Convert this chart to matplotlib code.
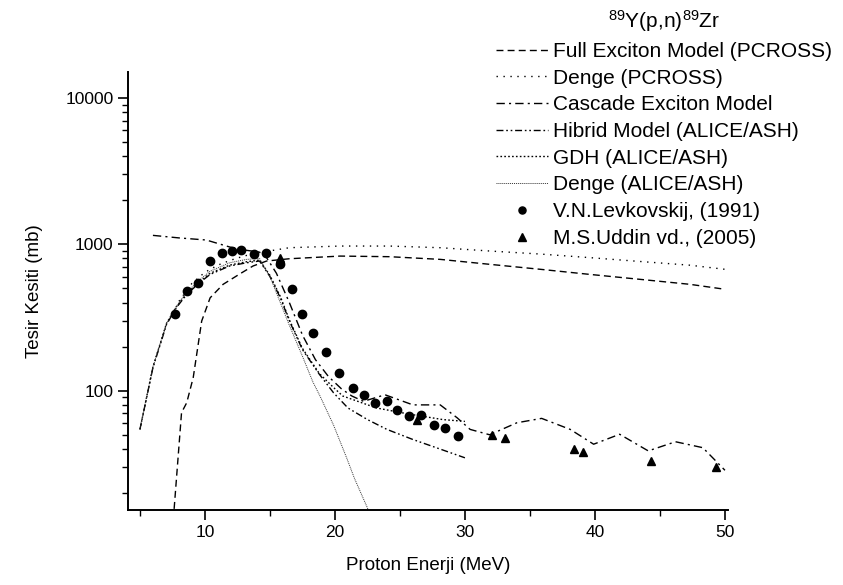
import numpy as np
import matplotlib
matplotlib.use('Agg')
import matplotlib.pyplot as plt

plt.rcParams['font.family'] = ['Liberation Sans', 'DejaVu Sans']
plt.rcParams['mathtext.fontset'] = 'custom'
plt.rcParams['mathtext.rm'] = 'Liberation Sans'
plt.rcParams['mathtext.default'] = 'regular'

# Full Exciton Model (PCROSS)
e_full = [7.5, 8.2, 8.6, 9.1, 9.75, 10.4, 11.4, 12.7, 13.7, 14.75, 16.5, 20.4,
          24.2, 28.1, 31.9, 35.8, 39.6, 43.5, 47.3, 50]
s_full = [11, 70.8, 82.8, 123, 299, 431, 533, 629, 711, 769, 797, 831,
          823, 789, 730, 675, 623, 576, 533, 493]

# Denge (PCROSS)
e_dpc = [8.0, 9.0, 10.0, 11.0, 12.0, 13.0, 14.0, 16.5, 20.4, 24.2, 28.1, 31.9,
         35.8, 39.6, 43.5, 47.3, 50]
s_dpc = [408, 541, 644, 721, 780, 831, 873, 948, 973, 973, 948, 900,
         858, 811, 763, 720, 675]

# Cascade Exciton Model
e_cem = [6.0, 8.0, 10.1, 11.9, 13.0, 14.5, 15.5, 16.5, 17.5, 18.5, 19.5, 20.5,
         21.3, 22.2, 23.85, 26.0, 28.1, 29.4, 30.4, 31.9, 34.0, 35.9, 38.1,
         39.9, 41.9, 44.1, 46.2, 48.3, 50]
s_cem = [1151, 1106, 1070, 959, 915, 877, 634, 399, 240, 163, 125, 103,
         92, 84.6, 93.8, 80, 80, 65.3, 54.4, 50, 60.4, 64.7, 54.4,
         43.1, 50.4, 38.8, 44.8, 40.8, 28.6]

# Hibrid Model (ALICE/ASH)
e_hyb = [5, 6, 7.05, 7.8, 8.6, 9.5, 10.4, 11.9, 13.2, 14.2, 15.0, 15.8, 16.5,
         17.5, 18.8, 19.9, 21.0, 22.5, 24.0, 26.0, 28.0, 30.0]
s_hyb = [54.4, 143.6, 284, 369, 455, 538, 623, 711, 748, 769, 603, 431, 299,
         191, 129.5, 96.6, 76.2, 63.5, 54.4, 46.4, 40.2, 34.8]

# GDH (ALICE/ASH)
e_gdh = [5, 6, 7.05, 7.8, 8.6, 9.5, 10.4, 11.9, 13.2, 14.2, 15.0, 15.8, 16.5,
         17.5, 18.8, 19.9, 20.6, 23.2, 25.8, 28.3, 30.0]
s_gdh = [54.4, 145.5, 289, 374, 462, 546, 634, 721, 760, 780, 613, 440, 304,
         194.5, 131, 105, 92, 76.2, 69, 63.5, 61.7]

# Denge (ALICE/ASH)
e_dal = [5, 6, 7.05, 7.8, 8.6, 9.5, 10.4, 11.9, 13.2, 14.2, 15.0, 16.5, 17.5,
         18.3, 18.85, 19.9, 20.9, 21.5, 22.6, 23.0]
s_dal = [54.4, 145.5, 289, 377, 470, 562, 655, 748, 789, 800, 603, 279, 172,
         115, 92, 58, 34.8, 25.2, 15.1, 12.6]

# V.N.Levkovskij, (1991)
e_lev = [7.7, 8.6, 9.5, 10.4, 11.3, 12.1, 12.8, 13.8, 14.7, 15.8, 16.7, 17.5,
         18.3, 19.3, 20.3, 21.4, 22.2, 23.1, 24.0, 24.8, 25.7, 26.6, 27.6,
         28.5, 29.5]
s_lev = [332, 480, 541, 765, 868, 896, 918, 862, 872, 730, 493, 334,
         247, 183, 132, 105, 93.8, 81.8, 85.1, 74.3, 67.1, 68, 58,
         56, 49]

# M.S.Uddin vd., (2005)
e_udd = [15.8, 26.3, 32.1, 33.1, 38.4, 39.05, 44.3, 49.3]
s_udd = [803, 63.5, 50, 47.8, 40.2, 38.1, 33.1, 30.1]

fig = plt.figure(figsize=(8.43, 5.85), dpi=100)
ax = fig.add_axes([0.1518, 0.1274, 0.7117, 0.750])

ax.plot(e_full, s_full, color='black', lw=1.0, ls=(0, (5, 3)),
        label='Full Exciton Model (PCROSS)')
ax.plot(e_dpc, s_dpc, color='black', lw=1.0, ls=(0, (1, 4)),
        label='Denge (PCROSS)')
ax.plot(e_cem, s_cem, color='black', lw=1.0, ls=(0, (6, 3, 1.5, 3)),
        label='Cascade Exciton Model')
ax.plot(e_hyb, s_hyb, color='black', lw=1.0, ls=(0, (5, 2, 1.2, 2, 1.2, 2)),
        label='Hibrid Model (ALICE/ASH)')
ax.plot(e_gdh, s_gdh, color='black', lw=1.0, ls=(0, (1.2, 1.6)),
        label='GDH (ALICE/ASH)')
ax.plot(e_dal, s_dal, color='#333333', lw=0.7, ls=(0, (1, 1)),
        label='Denge (ALICE/ASH)')
ax.plot(e_lev, s_lev, 'o', color='black', ms=6, ls='none',
        label='V.N.Levkovskij, (1991)')
ax.plot(e_udd, s_udd, '^', color='black', ms=6, ls='none',
        label='M.S.Uddin vd., (2005)')

ax.set_yscale('log')
ax.set_xlim(4.08, 50.23)
ax.set_ylim(15.2, 15100)
ax.set_xticks([10, 20, 30, 40, 50])
ax.set_xticks([5, 15, 25, 35, 45], minor=True)
ax.set_yticks([100, 1000, 10000])
ax.set_yticklabels(['100', '1000', '10000'])

for s in ['top', 'right']:
    ax.spines[s].set_visible(False)
for s in ['left', 'bottom']:
    ax.spines[s].set_linewidth(1.4)

ax.tick_params(which='major', direction='out', length=7, width=1.2,
               labelsize=12.5)
ax.tick_params(which='minor', direction='out', length=4, width=1.0)
ax.set_xlabel('Proton Enerji (MeV)', fontsize=13.5, labelpad=12)
ax.set_ylabel('Tesir Kesiti (mb)', fontsize=13.5, labelpad=16)

leg = fig.legend(loc='upper right', bbox_to_anchor=(0.997, 1.0),
                 frameon=False, fontsize=15, handlelength=2.5,
                 handletextpad=0.25, labelspacing=0.37, numpoints=1,
                 markerscale=0.85,
                 title='$^{89}$Y(p,n)$^{89}$Zr', title_fontsize=15,
                 borderaxespad=0.0, borderpad=0.4)

fig.savefig('out.png', dpi=100)
